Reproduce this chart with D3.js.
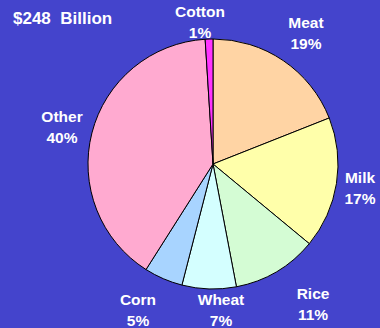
<!DOCTYPE html>
<html>
<head>
<meta charset="utf-8">
<script src="https://cdn.jsdelivr.net/npm/d3@7"></script>
<style>
  body { margin: 0; background: #4444cc; }
  svg text { font-family: "Liberation Sans", Arial, sans-serif; font-weight: bold; fill: #fff; }
</style>
</head>
<body>
<svg id="pie" width="380" height="328"></svg>
<script>
var categories = ["Meat", "Milk", "Rice", "Wheat", "Corn", "Other", "Cotton"];
var shares = [19, 17, 11, 7, 5, 40, 1];
var sliceColors = ["#ffd4a4", "#ffffaa", "#d4fcd4", "#d4ffff", "#a8d4ff", "#ffaad0", "#ff33ff"];
// label anchor points, picked by eye
var labelX = [306, 360, 313, 221, 138, 62, 200];
var labelY = [28, 183, 299, 305, 305, 122, 17];

var svg = d3.select("#pie"),
    cx = 213, cy = 164, r = 125;

svg.append("rect").attr("width", 380).attr("height", 328).attr("fill", "#4444cc");

var data = categories.map(function(c, i) {
  return { name: c, value: shares[i], color: sliceColors[i], lx: labelX[i], ly: labelY[i] };
});

var pie = d3.pie().sort(null).value(function(d) { return d.value; });
var arc = d3.arc().innerRadius(0).outerRadius(r);

// labels first so the pie covers the Cotton "1%" like the original
var lab = svg.selectAll(".lab")
  .data(data)
  .enter().append("text")
  .attr("class", "lab")
  .attr("text-anchor", "middle")
  .attr("font-size", 15.5);
lab.append("tspan")
  .attr("x", function(d) { return d.lx; })
  .attr("y", function(d) { return d.ly; })
  .text(function(d) { return d.name; });
lab.append("tspan")
  .attr("x", function(d) { return d.lx; })
  .attr("y", function(d) { return d.ly + 20.5; })
  .text(function(d) { return d.value + "%"; });

var g = svg.append("g").attr("transform", "translate(" + cx + "," + cy + ")");
g.selectAll("path")
  .data(pie(data))
  .enter().append("path")
  .attr("d", arc)
  .attr("fill", function(d) { return d.data.color; })
  .attr("stroke", "#000")
  .attr("stroke-width", 1);

svg.append("text")
  .attr("x", 13).attr("y", 24)
  .attr("font-size", 17)
  .attr("xml:space", "preserve")
  .text("$248  Billion");
</script>
</body>
</html>
